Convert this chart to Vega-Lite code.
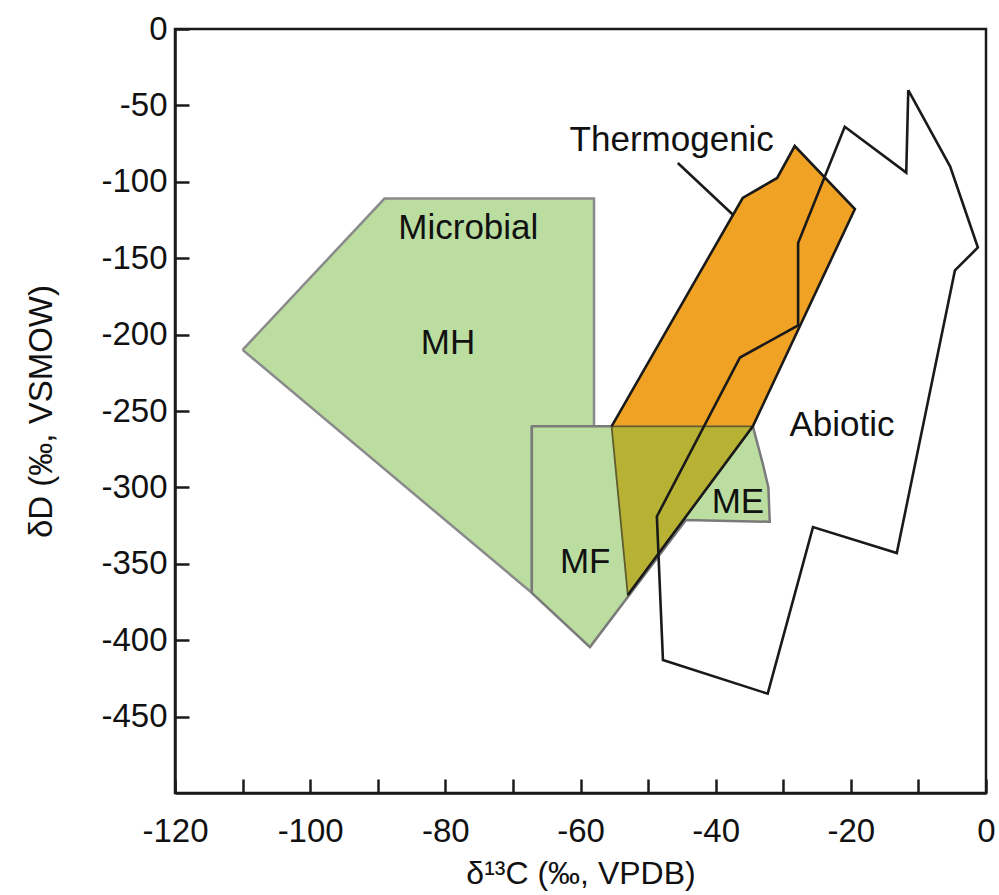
{
  "$schema": "https://vega.github.io/schema/vega-lite/v6.json",
  "width": 811,
  "height": 764,
  "autosize": {"type": "none"},
  "padding": {"left": 175, "top": 29, "right": 13, "bottom": 102},
  "background": "white",
  "config": {
    "view": {"stroke": "#1a1a1a", "strokeWidth": 2.5},
    "font": "Liberation Sans",
    "axis": {
      "grid": false,
      "domainColor": "#1a1a1a",
      "domainWidth": 2.5,
      "tickColor": "#1a1a1a",
      "tickWidth": 2.5,
      "tickSize": -14,
      "labelFont": "Liberation Sans",
      "labelFontSize": 33,
      "labelColor": "#111",
      "labelFlush": false,
      "labelOverlap": false,
      "titleFont": "Liberation Sans",
      "titleFontSize": 33,
      "titleFontWeight": "normal",
      "titleColor": "#111"
    }
  },
  "datasets": {
    "shapes": [
      {"shape": "MH", "i": 1, "x": -110, "y": -210},
      {"shape": "MH", "i": 2, "x": -89, "y": -111},
      {"shape": "MH", "i": 3, "x": -58, "y": -111},
      {"shape": "MH", "i": 4, "x": -58, "y": -260},
      {"shape": "MH", "i": 5, "x": -67.2, "y": -260},
      {"shape": "MH", "i": 6, "x": -67.2, "y": -369},
      {"shape": "MH", "i": 7, "x": -110, "y": -210},

      {"shape": "MFME", "i": 1, "x": -67.2, "y": -260},
      {"shape": "MFME", "i": 2, "x": -34.5, "y": -260},
      {"shape": "MFME", "i": 3, "x": -33, "y": -285},
      {"shape": "MFME", "i": 4, "x": -32.2, "y": -300},
      {"shape": "MFME", "i": 5, "x": -32, "y": -322.5},
      {"shape": "MFME", "i": 6, "x": -44.4, "y": -321.3},
      {"shape": "MFME", "i": 7, "x": -58.6, "y": -404.5},
      {"shape": "MFME", "i": 8, "x": -67.2, "y": -369},
      {"shape": "MFME", "i": 9, "x": -67.2, "y": -260},

      {"shape": "Thermo", "i": 1, "x": -55.4, "y": -260},
      {"shape": "Thermo", "i": 2, "x": -36, "y": -110.6},
      {"shape": "Thermo", "i": 3, "x": -30.9, "y": -97.5},
      {"shape": "Thermo", "i": 4, "x": -28.3, "y": -76.6},
      {"shape": "Thermo", "i": 5, "x": -19.4, "y": -117.8},
      {"shape": "Thermo", "i": 6, "x": -34.5, "y": -260},
      {"shape": "Thermo", "i": 7, "x": -53, "y": -370.4},
      {"shape": "Thermo", "i": 8, "x": -55.4, "y": -260},

      {"shape": "Overlap", "i": 1, "x": -55.4, "y": -260},
      {"shape": "Overlap", "i": 2, "x": -34.5, "y": -260},
      {"shape": "Overlap", "i": 3, "x": -53, "y": -370.4},
      {"shape": "Overlap", "i": 4, "x": -55.4, "y": -260},

      {"shape": "ThermoEdge", "i": 1, "x": -53, "y": -370.4},
      {"shape": "ThermoEdge", "i": 2, "x": -34.5, "y": -260},
      {"shape": "ThermoEdge", "i": 3, "x": -19.4, "y": -117.8},
      {"shape": "ThermoEdge", "i": 4, "x": -28.3, "y": -76.6},
      {"shape": "ThermoEdge", "i": 5, "x": -30.9, "y": -97.5},
      {"shape": "ThermoEdge", "i": 6, "x": -36, "y": -110.6},
      {"shape": "ThermoEdge", "i": 7, "x": -55.4, "y": -260},

      {"shape": "Abiotic", "i": 1, "x": -11.5, "y": -40},
      {"shape": "Abiotic", "i": 2, "x": -11.8, "y": -94},
      {"shape": "Abiotic", "i": 3, "x": -20.9, "y": -64},
      {"shape": "Abiotic", "i": 4, "x": -27.8, "y": -140},
      {"shape": "Abiotic", "i": 5, "x": -27.8, "y": -194},
      {"shape": "Abiotic", "i": 6, "x": -36.4, "y": -215},
      {"shape": "Abiotic", "i": 7, "x": -48.7, "y": -319},
      {"shape": "Abiotic", "i": 8, "x": -47.8, "y": -413},
      {"shape": "Abiotic", "i": 9, "x": -32.3, "y": -435},
      {"shape": "Abiotic", "i": 10, "x": -25.6, "y": -326},
      {"shape": "Abiotic", "i": 11, "x": -13.2, "y": -343},
      {"shape": "Abiotic", "i": 12, "x": -4.6, "y": -158},
      {"shape": "Abiotic", "i": 13, "x": -1.2, "y": -143},
      {"shape": "Abiotic", "i": 14, "x": -5.3, "y": -90},
      {"shape": "Abiotic", "i": 15, "x": -11.5, "y": -40},

      {"shape": "Leader", "i": 1, "x": -45.6, "y": -87.7},
      {"shape": "Leader", "i": 2, "x": -37.4, "y": -121.7}
    ],
    "labels": [
      {"label": "Microbial", "x": -76.6, "y": -130},
      {"label": "MH", "x": -79.6, "y": -205.5},
      {"label": "MF", "x": -59.3, "y": -349},
      {"label": "ME", "x": -36.7, "y": -309.6},
      {"label": "Abiotic", "x": -21.3, "y": -259},
      {"label": "Thermogenic", "x": -46.5, "y": -72.6}
    ]
  },
  "layer": [
    {
      "data": {"name": "shapes"},
      "transform": [{"filter": "datum.shape == 'MH'"}],
      "mark": {"type": "line", "fill": "#bbdea0", "stroke": "#8a8a8a", "strokeWidth": 2.5, "strokeJoin": "miter"},
      "encoding": {
        "x": {"field": "x", "type": "quantitative",
          "scale": {"domain": [-120, 0], "nice": false, "zero": false},
          "axis": {
            "title": "δ¹³C (‰, VPDB)",
            "titleFontSize": 32,
            "values": [-120, -110, -100, -90, -80, -70, -60, -50, -40, -30, -20, -10, 0],
            "labelExpr": "datum.value % 20 == 0 ? '' + datum.value : ''",
            "labelPadding": 36,
            "titlePadding": 10
          }},
        "y": {"field": "y", "type": "quantitative",
          "scale": {"domain": [-500, 0], "nice": false, "zero": false},
          "axis": {
            "title": "δD (‰, VSMOW)",
            "values": [-450, -400, -350, -300, -250, -200, -150, -100, -50, 0],
            "labelExpr": "'' + datum.value",
            "labelPadding": 22,
            "titlePadding": 42
          }},
        "order": {"field": "i", "type": "quantitative"}
      }
    },
    {
      "data": {"name": "shapes"},
      "transform": [{"filter": "datum.shape == 'MFME'"}],
      "mark": {"type": "line", "fill": "#bbdea0", "stroke": "#7a7a7a", "strokeWidth": 2.5, "strokeJoin": "miter"},
      "encoding": {
        "x": {"field": "x", "type": "quantitative"},
        "y": {"field": "y", "type": "quantitative"},
        "order": {"field": "i", "type": "quantitative"}
      }
    },
    {
      "data": {"name": "shapes"},
      "transform": [{"filter": "datum.shape == 'Thermo'"}],
      "mark": {"type": "line", "fill": "#f0a224", "stroke": "#f0a224", "strokeWidth": 0.5},
      "encoding": {
        "x": {"field": "x", "type": "quantitative"},
        "y": {"field": "y", "type": "quantitative"},
        "order": {"field": "i", "type": "quantitative"}
      }
    },
    {
      "data": {"name": "shapes"},
      "transform": [{"filter": "datum.shape == 'Overlap'"}],
      "mark": {"type": "line", "fill": "#b8b234", "stroke": "#5f5d30", "strokeWidth": 1.8, "strokeJoin": "miter"},
      "encoding": {
        "x": {"field": "x", "type": "quantitative"},
        "y": {"field": "y", "type": "quantitative"},
        "order": {"field": "i", "type": "quantitative"}
      }
    },
    {
      "data": {"name": "shapes"},
      "transform": [{"filter": "datum.shape == 'ThermoEdge' || datum.shape == 'Abiotic' || datum.shape == 'Leader'"}],
      "mark": {"type": "line", "color": "#1a1a1a", "strokeWidth": 2.6, "strokeJoin": "miter"},
      "encoding": {
        "x": {"field": "x", "type": "quantitative"},
        "y": {"field": "y", "type": "quantitative"},
        "detail": {"field": "shape", "type": "nominal"},
        "order": {"field": "i", "type": "quantitative"}
      }
    },
    {
      "data": {"name": "labels"},
      "mark": {"type": "text", "font": "Liberation Sans", "fontSize": 35, "color": "#111", "align": "center", "baseline": "middle"},
      "encoding": {
        "x": {"field": "x", "type": "quantitative"},
        "y": {"field": "y", "type": "quantitative"},
        "text": {"field": "label", "type": "nominal"}
      }
    }
  ]
}
